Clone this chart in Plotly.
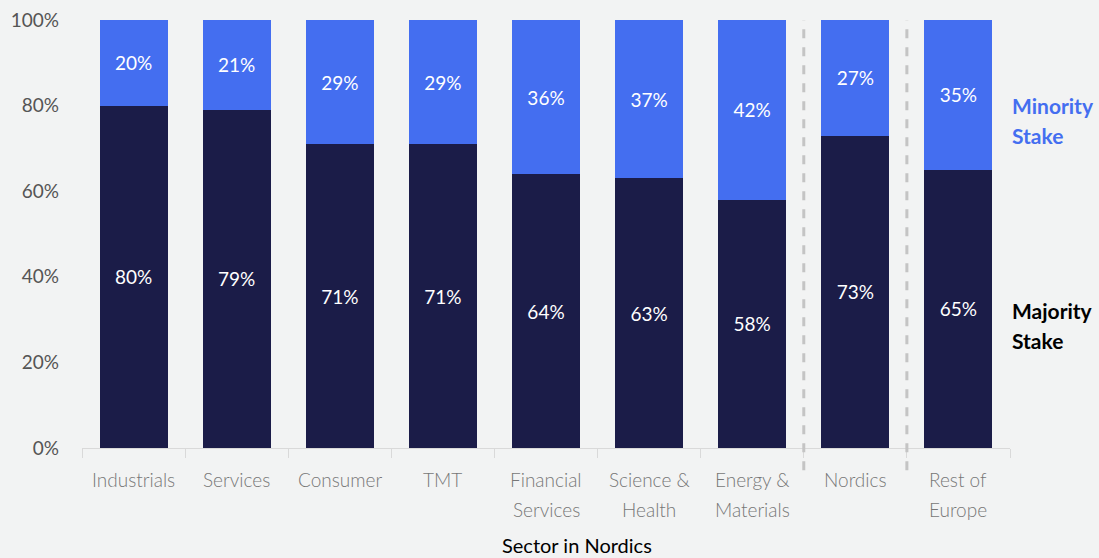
import plotly.graph_objects as go

# Deal share by stake type, per sector
categories = ["Industrials", "Services", "Consumer", "TMT", "Financial Services",
              "Science & Health", "Energy & Materials", "Nordics", "Rest of Europe"]
tick_lines = [["Industrials"], ["Services"], ["Consumer"], ["TMT"],
              ["Financial", "Services"], ["Science &", "Health"],
              ["Energy &", "Materials"], ["Nordics"], ["Rest of", "Europe"]]
majority = [80, 79, 71, 71, 64, 63, 58, 73, 65]
minority = [20, 21, 29, 29, 36, 37, 42, 27, 35]
y_ticks = [0, 20, 40, 60, 80, 100]
y_tick_text = [f"{v}%" for v in y_ticks]

DARK = "#1b1c48"
BLUE = "#446ef0"
BG = "#f2f3f3"
FONT = "Source Sans Pro, Lato, Open Sans, sans-serif"
PLOT_W = 928  # plot area width in px
PLOT_H = 428  # plot area height in px, used to place text below the axis

fig = go.Figure()
fig.add_bar(x=categories, y=majority, name="Majority Stake", marker_color=DARK,
            marker_line_width=0,
            text=[f"{v}%" for v in majority], textposition="inside",
            insidetextanchor="middle", textangle=0,
            textfont=dict(color="white", size=19, family=FONT))
fig.add_bar(x=categories, y=minority, name="Minority Stake", marker_color=BLUE,
            marker_line_width=0,
            text=[f"{v}%" for v in minority], textposition="inside",
            insidetextanchor="middle", textangle=0,
            textfont=dict(color="white", size=19, family=FONT))

# Dashed separators between sector, regional and European groups
for xpos in (6.5, 7.5):
    fig.add_shape(type="line", xref="x", yref="paper", x0=xpos, x1=xpos,
                  y0=-0.052, y1=1.0,
                  line=dict(color="#c4c4c4", width=3, dash="dash"))

# Category labels, one text line per annotation for wider line spacing
for cat, lines in zip(categories, tick_lines):
    for i, line in enumerate(lines):
        fig.add_annotation(xref="x", yref="paper", x=cat,
                           y=-(31 + 30 * i) / PLOT_H,
                           xanchor="center", yanchor="middle", showarrow=False,
                           text=line,
                           font=dict(color="#777777", size=19, family=FONT, weight=300))

# Axis title
fig.add_annotation(xref="paper", yref="paper", x=(577 - 82) / PLOT_W, y=-97 / PLOT_H,
                   xanchor="center", yanchor="middle", showarrow=False,
                   text="Sector in Nordics",
                   font=dict(color="black", size=20, family=FONT))

# Series labels at the right edge
for text, color, ys in (("Minority", BLUE, 105), ("Stake", BLUE, 135),
                        ("Majority", "black", 310), ("Stake", "black", 340)):
    fig.add_annotation(xref="paper", yref="paper", x=0.9995,
                       y=(448 - ys) / PLOT_H, xanchor="left", yanchor="middle",
                       showarrow=False, text=f"<b>{text}</b>",
                       font=dict(color=color, size=21, family=FONT))

fig.update_layout(
    barmode="stack",
    bargap=0.34,
    width=1099, height=558,
    margin=dict(l=82, r=89, t=20, b=110, autoexpand=False),
    paper_bgcolor=BG, plot_bgcolor=BG,
    showlegend=False,
    font=dict(family=FONT),
)
fig.update_xaxes(
    showline=True, linecolor="#d9d9d9", linewidth=1,
    ticks="outside", tickson="boundaries", ticklen=9, tickcolor="#d9d9d9",
    showticklabels=False, showgrid=False, automargin=False,
)
fig.update_yaxes(
    range=[0, 100], tickvals=y_ticks, ticktext=y_tick_text,
    tickfont=dict(color="#555555", size=19, family=FONT),
    showgrid=False, zeroline=False, showline=False,
    ticks="", ticklabelstandoff=22, automargin=False,
)

fig.write_html("out.html")
